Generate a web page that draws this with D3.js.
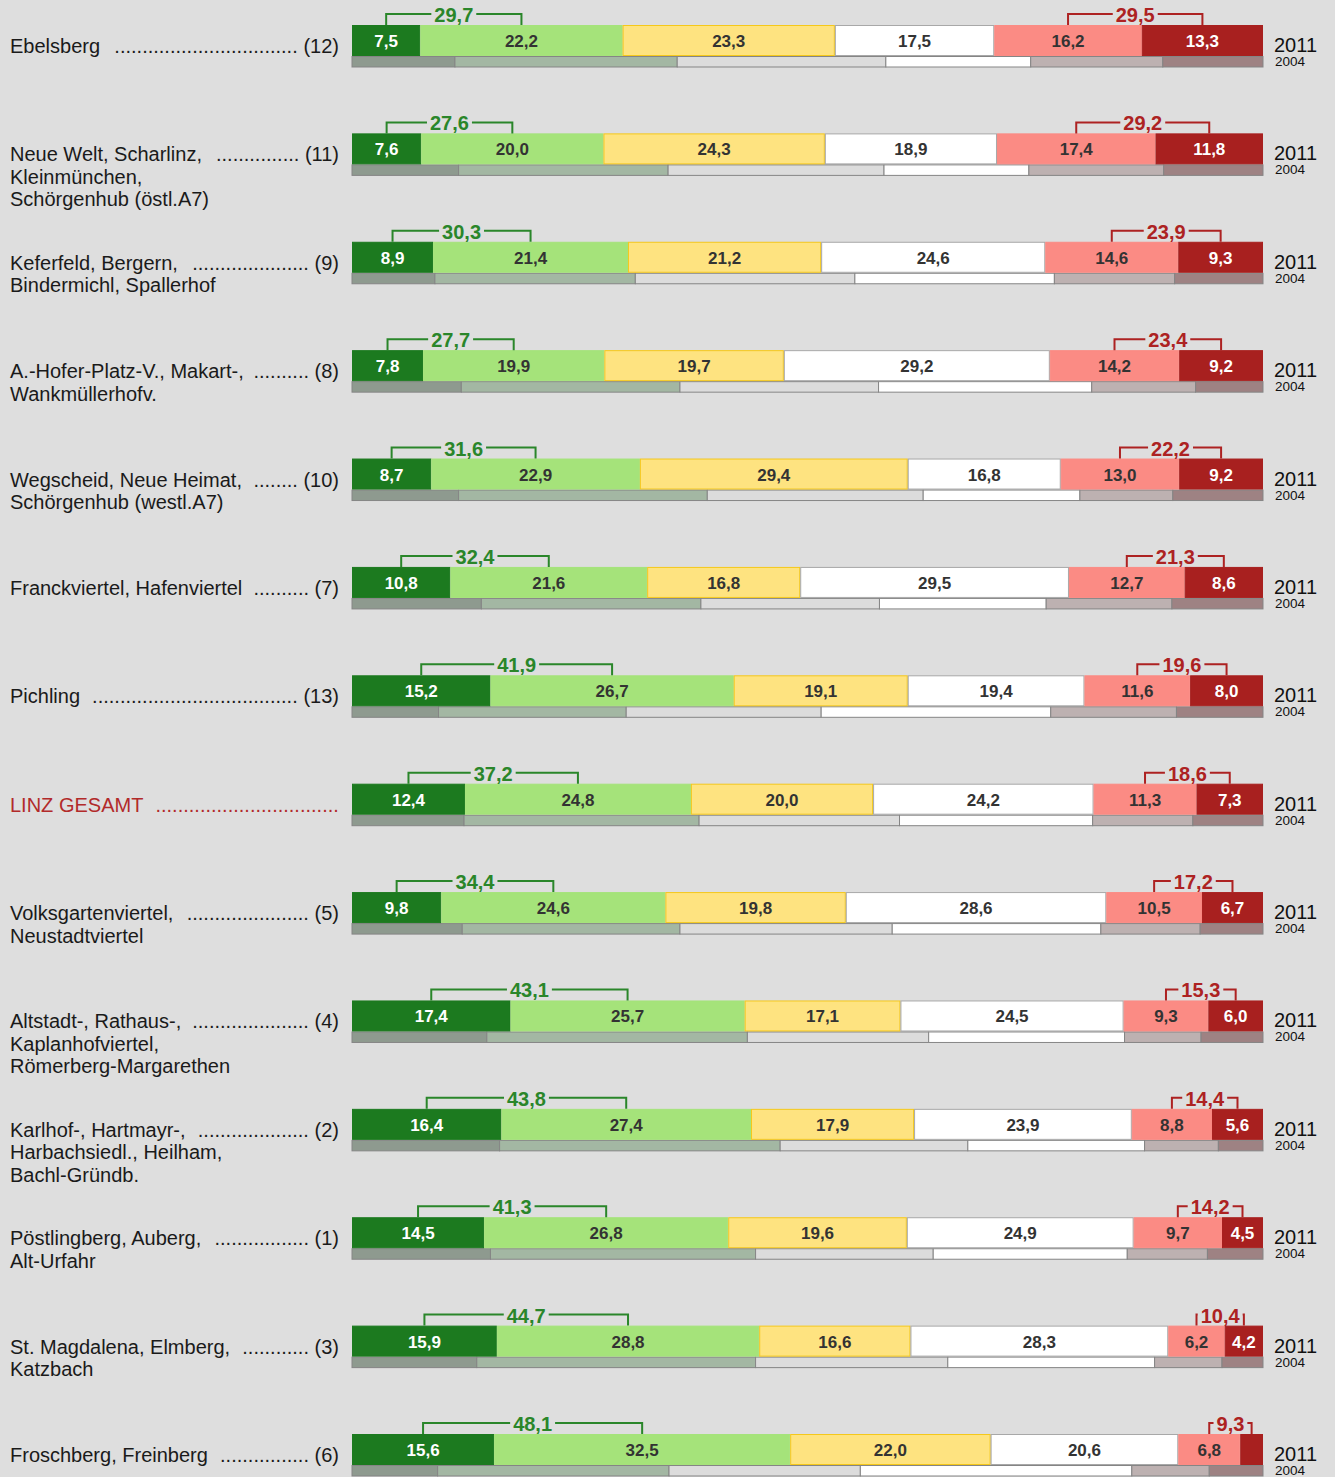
<!DOCTYPE html>
<html><head><meta charset="utf-8">
<script src="https://cdn.jsdelivr.net/npm/d3@7"></script>
<style>body{margin:0;background:#dedede;}svg{display:block;font-family:"Liberation Sans",Arial,sans-serif;}</style>
</head><body><svg id="c" width="1335" height="1477"></svg>
<script>
// ---- data ----
const districtNames = [
  ["Ebelsberg"],
  ["Neue Welt, Scharlinz,", "Kleinmünchen,", "Schörgenhub (östl.A7)"],
  ["Keferfeld, Bergern,", "Bindermichl, Spallerhof"],
  ["A.-Hofer-Platz-V., Makart-,", "Wankmüllerhofv."],
  ["Wegscheid, Neue Heimat,", "Schörgenhub (westl.A7)"],
  ["Franckviertel, Hafenviertel"],
  ["Pichling"],
  ["LINZ GESAMT"],
  ["Volksgartenviertel,", "Neustadtviertel"],
  ["Altstadt-, Rathaus-,", "Kaplanhofviertel,", "Römerberg-Margarethen"],
  ["Karlhof-, Hartmayr-,", "Harbachsiedl., Heilham,", "Bachl-Gründb."],
  ["Pöstlingberg, Auberg,", "Alt-Urfahr"],
  ["St. Magdalena, Elmberg,", "Katzbach"],
  ["Froschberg, Freinberg"]
];
const districtNumbers = ["(12)","(11)","(9)","(8)","(10)","(7)","(13)","","(5)","(4)","(2)","(1)","(3)","(6)"];
const values2011 = [
  [7.5,22.2,23.3,17.5,16.2,13.3],
  [7.6,20.0,24.3,18.9,17.4,11.8],
  [8.9,21.4,21.2,24.6,14.6,9.3],
  [7.8,19.9,19.7,29.2,14.2,9.2],
  [8.7,22.9,29.4,16.8,13.0,9.2],
  [10.8,21.6,16.8,29.5,12.7,8.6],
  [15.2,26.7,19.1,19.4,11.6,8.0],
  [12.4,24.8,20.0,24.2,11.3,7.3],
  [9.8,24.6,19.8,28.6,10.5,6.7],
  [17.4,25.7,17.1,24.5,9.3,6.0],
  [16.4,27.4,17.9,23.9,8.8,5.6],
  [14.5,26.8,19.6,24.9,9.7,4.5],
  [15.9,28.8,16.6,28.3,6.2,4.2],
  [15.6,32.5,22.0,20.6,6.8,2.5]
];
const values2004 = [
  [11.3,24.4,22.9,15.9,14.5,11.0],
  [11.7,23.0,23.7,15.9,14.8,10.9],
  [9.1,22.0,24.1,21.9,13.2,9.7],
  [12.0,24.0,21.8,23.4,11.4,7.4],
  [11.7,27.3,23.7,17.2,10.2,9.9],
  [14.2,24.1,19.6,18.3,13.8,10.0],
  [9.5,20.6,21.4,25.2,13.8,9.5],
  [12.3,25.8,22.0,21.2,11.0,7.7],
  [12.1,23.9,23.3,22.9,10.9,6.9],
  [14.8,28.6,19.9,21.5,8.4,6.8],
  [16.2,30.8,20.6,19.4,8.1,4.9],
  [15.2,29.1,19.5,21.3,8.8,6.1],
  [13.7,30.6,21.1,22.7,7.4,4.5],
  [9.4,25.4,21.0,29.8,8.5,5.9]
];
const yearLabels = ["2011","2004"];

// ---- styles ----
const fill2011 = ["#1c7a1f","#a5e37a","#fee380","#ffffff","#fb8b84","#a8201f"];
const stroke2011 = ["#1c7a1f","#a5e37a","#f5c81a","#a8a8a8","#fb8b84","#a8201f"];
const text2011 = ["#ffffff","#333333","#333333","#333333","#333333","#ffffff"];
const fill2004 = ["#8e9a8f","#a3b7a3","#dcdcdc","#ffffff","#bdb1b1","#9e8283"];
const greenC = "#2a862a", redC = "#ad2222";

const svg = d3.select("#c");
svg.append("rect").attr("width",1335).attr("height",1477).attr("fill","#dedede");
const x = d3.scaleLinear().domain([0,100]).range([352,1263]);
const y = d3.scaleLinear().domain([0,13]).range([25,1434]);
const fmt = v => d3.format(".1f")(v).replace(".",",");
const H1 = 31, H2 = 10.5;

function stack(vals){ let c=0; return vals.map((v,k)=>{const s={k,v,x0:c,x1:c+v}; c+=v; return s;}); }

values2011.forEach((row,i)=>{
  const top = y(i);
  const g = svg.append("g");
  const s11 = stack(row), s04 = stack(values2004[i]);
  // 2004 bar
  g.selectAll(".b04").data(s04).enter().append("rect")
    .attr("x",d=>x(d.x0)).attr("y",top+H1+0.5).attr("width",d=>x(d.x1)-x(d.x0)).attr("height",H2)
    .attr("fill",d=>fill2004[d.k]).attr("stroke","#858585").attr("stroke-width",1);
  // 2011 bar
  g.selectAll(".b11").data(s11).enter().append("rect")
    .attr("x",d=>x(d.x0)+0.5).attr("y",top+0.5).attr("width",d=>x(d.x1)-x(d.x0)-1).attr("height",H1-1)
    .attr("fill",d=>fill2011[d.k]).attr("stroke",d=>stroke2011[d.k]).attr("stroke-width",1);
  g.selectAll(".t11").data(s11.filter(d=>d.v>=3.5)).enter().append("text")
    .attr("x",d=>(x(d.x0)+x(d.x1))/2).attr("y",top+22).attr("text-anchor","middle")
    .attr("font-size",17).attr("font-weight","bold").attr("fill",d=>text2011[d.k]).text(d=>fmt(d.v));
  // brackets
  [[0,1,greenC],[4,5,redC]].forEach(([a,b,col])=>{
    const xa=(x(s11[a].x0)+x(s11[a].x1))/2, xb=(x(s11[b].x0)+x(s11[b].x1))/2;
    const by = top-11, mid=(xa+xb)/2;
    const t = g.append("text").attr("x",mid).attr("y",top-3).attr("text-anchor","middle")
      .attr("font-size",20).attr("font-weight","bold").attr("fill",col)
      .text(fmt(Math.round((row[a]+row[b])*10)/10));
    const tw = t.node().getComputedTextLength()/2 + 3;
    const l1 = Math.min(mid-tw, mid), r1 = Math.max(mid+tw, mid);
    const path = d3.path();
    path.moveTo(xa, top); path.lineTo(xa, by);
    if (l1 > xa) path.lineTo(l1, by);
    path.moveTo(xb, top); path.lineTo(xb, by);
    if (r1 < xb) path.lineTo(r1, by);
    g.append("path").attr("d",path.toString()).attr("fill","none").attr("stroke",col).attr("stroke-width",2);
  });
  // year labels
  g.append("text").attr("x",1274).attr("y",top+27).attr("font-size",20).attr("fill","#111").text(yearLabels[0]);
  g.append("text").attr("x",1275).attr("y",top+41).attr("font-size",13.5).attr("fill","#111").text(yearLabels[1]);
  // row labels
  const isTotal = districtNumbers[i]==="";
  const col = isTotal ? "#b22a2a" : "#1a1a1a";
  const lines = districtNames[i];
  let firstW = 0;
  lines.forEach((ln,j)=>{
    const t = g.append("text").attr("x",10).attr("y",top+28+j*22.5).attr("font-size",20).attr("fill",col).text(ln);
    if(j===0) firstW = t.node().getComputedTextLength();
  });
  let endX = 339;
  if(!isTotal){
    const n = g.append("text").attr("x",339).attr("y",top+28).attr("font-size",20).attr("text-anchor","end").attr("fill",col).text(districtNumbers[i]);
    endX = 339 - n.node().getComputedTextLength() - 5.5;
  }
  const startX = 10 + firstW + 9;
  const dt = g.append("text").attr("x",startX).attr("y",top+28).attr("font-size",20).attr("fill",col).text(".");
  const dw = dt.node().getComputedTextLength();
  const nd = Math.max(0, Math.floor((endX-startX)/dw));
  dt.text(".".repeat(nd)).attr("x", endX - nd*dw);
});
</script></body></html>
